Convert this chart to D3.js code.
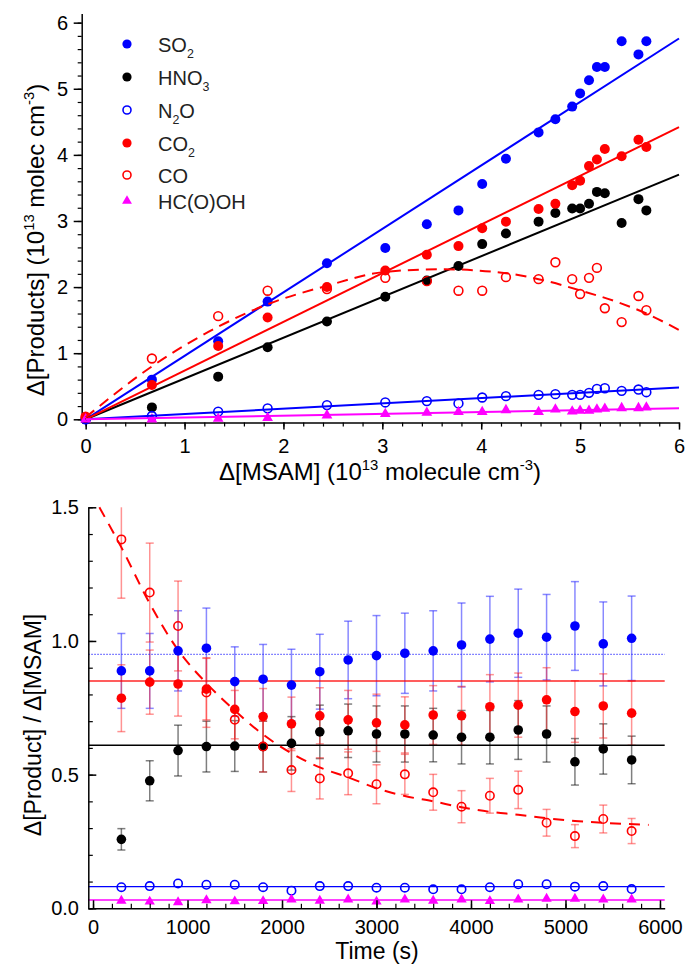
<!DOCTYPE html>
<html>
<head>
<meta charset="utf-8">
<script src="https://cdn.jsdelivr.net/npm/d3@7"></script>
<style>
body { margin: 0; background: #fff; }
svg { display: block; font-family: "Liberation Sans", Arial, sans-serif; }
</style>
</head>
<body>
<svg width="686" height="967"></svg>
<script>
// ---- top panel: products vs MSAM consumed (10^13 molec cm-3)
var msam  = [0, 0.67, 1.34, 1.84, 2.44, 3.03, 3.45, 3.77, 4.01, 4.25, 4.58, 4.75, 4.92, 5.00, 5.09, 5.17, 5.25, 5.42, 5.59, 5.67];
var so2   = [0, 0.60, 1.18, 1.78, 2.36, 2.59, 2.95, 3.16, 3.56, 3.94, 4.34, 4.54, 4.73, 4.93, 5.13, 5.33, 5.33, 5.72, 5.52, 5.72];
var hno3  = [0, 0.18, 0.645, 1.09, 1.48, 1.855, 2.10, 2.32, 2.65, 2.81, 2.99, 3.12, 3.19, 3.19, 3.26, 3.44, 3.42, 2.97, 3.33, 3.16];
var n2o   = [0, 0.05, 0.115, 0.165, 0.215, 0.255, 0.275, 0.24, 0.33, 0.35, 0.37, 0.38, 0.37, 0.37, 0.40, 0.46, 0.47, 0.43, 0.45, 0.41];
var co2   = [0.03, 0.52, 1.11, 1.54, 2.00, 2.25, 2.49, 2.62, 2.89, 2.99, 3.18, 3.26, 3.54, 3.61, 3.83, 3.93, 4.09, 3.98, 4.23, 4.12];
var co    = [0.04, 0.92, 1.56, 1.945, 1.97, 2.14, 2.09, 1.945, 1.945, 2.15, 2.12, 2.375, 2.12, 1.895, 2.14, 2.29, 1.68, 1.47, 1.865, 1.65];
var hcooh = [0, 0.0, 0.01, 0.02, 0.06, 0.08, 0.10, 0.11, 0.11, 0.14, 0.11, 0.15, 0.12, 0.13, 0.13, 0.15, 0.16, 0.17, 0.17, 0.18];

// straight fits, value at x = 0 and x = 6
var fitX      = [0, 6];
var so2Fit    = [0, 5.76];
var hno3Fit   = [0, 3.70];
var n2oFit    = [0, 0.48];
var co2Fit    = [0, 4.42];
var hcoohFit  = [0, 0.166];
// CO curve
var coFitX = [0, 0.67, 1.34, 1.84, 2.44, 3.03, 3.6, 4.25, 4.58, 5.0, 5.42, 5.67, 6];
var coFitY = [0.03, 0.80, 1.40, 1.74, 2.02, 2.23, 2.27, 2.21, 2.12, 1.95, 1.75, 1.60, 1.35];

var legendNames = ["SO_{2}", "HNO_{3}", "N_{2}O", "CO_{2}", "CO", "HC(O)OH"];

// ---- bottom panel: yield ratio vs time
var timeS     = [300, 600, 900, 1200, 1500, 1800, 2100, 2400, 2700, 3000, 3300, 3600, 3900, 4200, 4500, 4800, 5100, 5400, 5700];
var so2Ratio  = [0.888, 0.888, 0.963, 0.973, 0.848, 0.857, 0.835, 0.885, 0.929, 0.945, 0.954, 0.963, 0.985, 1.007, 1.029, 1.014, 1.056, 0.989, 1.010];
var so2Err    = [0.14, 0.14, 0.15, 0.15, 0.13, 0.13, 0.134, 0.14, 0.145, 0.15, 0.15, 0.15, 0.157, 0.16, 0.165, 0.16, 0.166, 0.157, 0.158];
var hno3Ratio = [0.258, 0.477, 0.59, 0.605, 0.607, 0.605, 0.617, 0.66, 0.664, 0.652, 0.652, 0.648, 0.64, 0.64, 0.667, 0.652, 0.548, 0.596, 0.555];
var hno3Err   = [0.04, 0.075, 0.095, 0.095, 0.095, 0.095, 0.1, 0.1, 0.1, 0.105, 0.105, 0.1, 0.1, 0.1, 0.11, 0.105, 0.087, 0.094, 0.089];
var n2oRatio  = [0.079, 0.083, 0.093, 0.088, 0.088, 0.079, 0.066, 0.083, 0.083, 0.077, 0.077, 0.071, 0.071, 0.079, 0.09, 0.09, 0.081, 0.083, 0.072];
var co2Ratio  = [0.786, 0.846, 0.839, 0.82, 0.744, 0.717, 0.69, 0.72, 0.705, 0.694, 0.686, 0.723, 0.72, 0.754, 0.76, 0.78, 0.736, 0.757, 0.73];
var co2Err    = [0.125, 0.12, 0.12, 0.115, 0.11, 0.105, 0.1, 0.105, 0.11, 0.107, 0.105, 0.11, 0.11, 0.12, 0.12, 0.12, 0.115, 0.12, 0.12];
var coRatio   = [1.38, 1.181, 1.056, 0.807, 0.705, 0.605, 0.517, 0.486, 0.505, 0.464, 0.501, 0.434, 0.38, 0.421, 0.443, 0.32, 0.27, 0.334, 0.289];
var coErr     = [0.22, 0.185, 0.168, 0.13, 0.11, 0.095, 0.08, 0.077, 0.08, 0.073, 0.075, 0.067, 0.06, 0.065, 0.07, 0.05, 0.043, 0.052, 0.047];
var hcoohRatio = [0.028, 0.025, 0.023, 0.03, 0.026, 0.027, 0.033, 0.028, 0.033, 0.025, 0.033, 0.028, 0.033, 0.027, 0.033, 0.036, 0.036, 0.033, 0.033];

// mean yields (horizontal lines)
var so2Mean = 0.95, hno3Mean = 0.61, n2oMean = 0.081, co2Mean = 0.85, hcoohMean = 0.031;
// CO decay curve
var coDecayT = [67, 300, 600, 900, 1200, 1500, 1800, 2100, 2400, 2700, 3000, 3300, 3600, 3900, 4200, 4500, 4800, 5100, 5400, 5880];
var coDecayY = [1.5, 1.35, 1.14, 0.966, 0.842, 0.74, 0.65, 0.58, 0.527, 0.49, 0.449, 0.42, 0.40, 0.378, 0.361, 0.35, 0.337, 0.327, 0.32, 0.312];

var BLUE = "#0000ff", RED = "#ff0000", BLACK = "#000000", MAGENTA = "#ff00ff";
var tickFont = 20, titleFont = 24, botTitleFont = 23;

var svg = d3.select("svg");

// text with ^{sup} and _{sub}
function rich(text, str, size) {
	var parts = str.split(/(\^\{[^}]*\}|_\{[^}]*\})/);
	var shift = 0;
	parts.forEach(function (p) {
		if (!p) return;
		var t = text.append("tspan");
		if (p[0] === "^" || p[0] === "_") {
			var d = p[0] === "^" ? -size * 0.42 : size * 0.32;
			t.attr("dy", d - shift).style("font-size", (size * 0.62) + "px").text(p.slice(2, -1));
			shift = d;
		} else {
			t.attr("dy", -shift).text(p);
			shift = 0;
		}
	});
}

function styleAxis(g) {
	g.attr("font-family", null).attr("font-size", null);
	g.selectAll(".domain").attr("stroke", "#000").attr("stroke-width", 1.5);
	g.selectAll(".tick line").attr("stroke", "#000").attr("stroke-width", 1.5);
	g.selectAll(".tick text").style("font-size", tickFont + "px").attr("fill", "#000");
}

function minor(g) {
	g.select(".domain").remove();
	g.selectAll(".tick line").attr("stroke", "#000").attr("stroke-width", 1.2);
}

function mark(g, shape, color, cx, cy, r) {
	if (shape === "tri") {
		g.append("path")
			.attr("d", d3.symbol(d3.symbolTriangle, r * r * 2))
			.attr("transform", "translate(" + cx + "," + cy + ")")
			.attr("fill", color);
	} else if (shape === "open") {
		g.append("circle").attr("cx", cx).attr("cy", cy).attr("r", r - 0.6)
			.attr("fill", "none").attr("stroke", color).attr("stroke-width", 1.6);
	} else {
		g.append("circle").attr("cx", cx).attr("cy", cy).attr("r", r).attr("fill", color);
	}
}

// ================= TOP PANEL =================
var xTop = d3.scaleLinear().domain([-0.04, 6]).range([81.7, 679]);
var yTop = d3.scaleLinear().domain([-0.05, 6.14]).range([422.6, 13.4]);

var topG = svg.append("g");

topG.append("g").attr("transform", "translate(0," + yTop(-0.05) + ")")
	.call(d3.axisBottom(xTop).tickValues(d3.range(0, 6.01, 0.2)).tickSize(4).tickFormat(""))
	.call(minor);
topG.append("g").attr("transform", "translate(0," + yTop(-0.05) + ")")
	.call(d3.axisBottom(xTop).tickValues([0, 1, 2, 3, 4, 5, 6]).tickSize(7).tickSizeOuter(0).tickPadding(9).tickFormat(d3.format("d")))
	.call(styleAxis);

topG.append("g").attr("transform", "translate(" + xTop(-0.04) + ",0)")
	.call(d3.axisLeft(yTop).tickValues(d3.range(0, 6.01, 0.2)).tickSize(4).tickFormat(""))
	.call(minor);
topG.append("g").attr("transform", "translate(" + xTop(-0.04) + ",0)")
	.call(d3.axisLeft(yTop).tickValues([0, 1, 2, 3, 4, 5, 6]).tickSize(8).tickSizeOuter(0).tickPadding(5.5).tickFormat(d3.format("d")))
	.call(styleAxis);

var topSeries = [
	{ y: so2, fit: so2Fit, color: BLUE, shape: "filled" },
	{ y: hno3, fit: hno3Fit, color: BLACK, shape: "filled" },
	{ y: n2o, fit: n2oFit, color: BLUE, shape: "open" },
	{ y: co2, fit: co2Fit, color: RED, shape: "filled" },
	{ y: co, fit: null, color: RED, shape: "open" },
	{ y: hcooh, fit: hcoohFit, color: MAGENTA, shape: "tri" }
];

var topPts = topG.append("g");
topSeries.forEach(function (s) {
	s.y.forEach(function (v, i) {
		mark(topPts, s.shape, s.color, xTop(msam[i]), yTop(v), 5);
	});
});

var line = d3.line();
topSeries.forEach(function (s) {
	if (!s.fit) return;
	topG.append("path")
		.attr("d", line(fitX.map(function (x, i) { return [xTop(x), yTop(s.fit[i])]; })))
		.attr("fill", "none").attr("stroke", s.color).attr("stroke-width", 2);
});
topG.append("path")
	.attr("d", d3.line().curve(d3.curveMonotoneX)(coFitX.map(function (x, i) { return [xTop(x), yTop(coFitY[i])]; })))
	.attr("fill", "none").attr("stroke", RED).attr("stroke-width", 2).attr("stroke-dasharray", "11,7");

// legend
var legendRowY = [44, 77, 110, 143, 175, 201];
var legend = topG.append("g");
topSeries.forEach(function (s, i) {
	mark(legend, s.shape, s.color, 127, legendRowY[i], 4.6);
	var t = legend.append("text").attr("x", 158).attr("y", legendRowY[i] + 7.5)
		.style("font-size", "20px").attr("fill", "#222");
	rich(t, legendNames[i], 20);
});

// titles
var tx = topG.append("text").attr("x", 380).attr("y", 480).attr("text-anchor", "middle")
	.style("font-size", titleFont + "px");
rich(tx, "\u0394[MSAM] (10^{13} molecule cm^{-3})", titleFont);
var ty = topG.append("text").attr("transform", "translate(44,240) rotate(-90)").attr("text-anchor", "middle")
	.style("font-size", titleFont + "px");
rich(ty, "\u0394[Products] (10^{13} molec cm^{-3})", titleFont);

// ================= BOTTOM PANEL =================
var xBot = d3.scaleLinear().domain([-50, 6050]).range([88.3, 664.7]);
var yBot = d3.scaleLinear().domain([0, 1.5]).range([908.3, 507.3]);

var botG = svg.append("g");

var botSeries = [
	{ y: so2Ratio, err: so2Err, mean: so2Mean, color: BLUE, shape: "filled", errColor: "rgba(40,40,255,0.55)", meanDash: "1.5,1.5", meanColor: "rgba(40,40,255,0.75)" },
	{ y: hno3Ratio, err: hno3Err, mean: hno3Mean, color: BLACK, shape: "filled", errColor: "rgba(0,0,0,0.5)", meanDash: null, meanColor: "#000" },
	{ y: n2oRatio, err: null, mean: n2oMean, color: BLUE, shape: "open", meanDash: null, meanColor: BLUE },
	{ y: co2Ratio, err: co2Err, mean: co2Mean, color: RED, shape: "filled", errColor: "rgba(255,40,40,0.5)", meanDash: null, meanColor: "rgba(255,0,0,0.85)" },
	{ y: coRatio, err: coErr, mean: null, color: RED, shape: "open", errColor: "rgba(255,40,40,0.5)" },
	{ y: hcoohRatio, err: null, mean: hcoohMean, color: MAGENTA, shape: "tri", meanDash: null, meanColor: MAGENTA }
];

// error bars
var errG = botG.append("g");
botSeries.forEach(function (s) {
	if (!s.err) return;
	s.y.forEach(function (v, i) {
		var cx = xBot(timeS[i]);
		var hi = v + s.err[i], lo = v - s.err[i];
		var hiC = Math.min(hi, 1.5), loC = Math.max(lo, 0);
		errG.append("line").attr("x1", cx).attr("x2", cx).attr("y1", yBot(hiC)).attr("y2", yBot(loC))
			.attr("stroke", s.errColor).attr("stroke-width", 1.5);
		[[hi, hiC], [lo, loC]].forEach(function (e) {
			if (e[0] !== e[1]) return;
			errG.append("line").attr("x1", cx - 4).attr("x2", cx + 4).attr("y1", yBot(e[1])).attr("y2", yBot(e[1]))
				.attr("stroke", s.errColor).attr("stroke-width", 1.5);
		});
	});
});

// mean lines
botSeries.forEach(function (s) {
	if (s.mean == null) return;
	botG.append("line").attr("x1", xBot(-50)).attr("x2", xBot(6050))
		.attr("y1", yBot(s.mean)).attr("y2", yBot(s.mean))
		.attr("stroke", s.meanColor).attr("stroke-width", 1.4)
		.attr("stroke-dasharray", s.meanDash);
});

botG.append("path")
	.attr("d", d3.line().curve(d3.curveMonotoneX)(coDecayT.map(function (t, i) { return [xBot(t), yBot(coDecayY[i])]; })))
	.attr("fill", "none").attr("stroke", RED).attr("stroke-width", 2).attr("stroke-dasharray", "11,8");

var botPts = botG.append("g");
botSeries.forEach(function (s) {
	s.y.forEach(function (v, i) {
		mark(botPts, s.shape, s.color, xBot(timeS[i]), yBot(v), 4.8);
	});
});

// axes (ticks inward)
botG.append("g").attr("transform", "translate(0," + yBot(0) + ")")
	.call(d3.axisBottom(xBot).tickValues(d3.range(0, 6001, 200)).tickSize(-4.5).tickFormat(""))
	.call(minor);
botG.append("g").attr("transform", "translate(0," + yBot(0) + ")")
	.call(d3.axisBottom(xBot).tickValues([0, 1000, 2000, 3000, 4000, 5000, 6000]).tickSize(-8).tickSizeOuter(0).tickPadding(12).tickFormat(d3.format("d")))
	.call(styleAxis);
botG.append("g").attr("transform", "translate(" + xBot(-50) + ",0)")
	.call(d3.axisLeft(yBot).tickValues(d3.range(0, 1.501, 0.1)).tickSize(-4.5).tickFormat(""))
	.call(minor);
botG.append("g").attr("transform", "translate(" + xBot(-50) + ",0)")
	.call(d3.axisLeft(yBot).tickValues([0, 0.5, 1.0, 1.5]).tickSize(-8).tickSizeOuter(0).tickPadding(9.3).tickFormat(d3.format(".1f")))
	.call(styleAxis);

botG.append("text").attr("x", 377).attr("y", 959).attr("text-anchor", "middle")
	.style("font-size", botTitleFont + "px").text("Time (s)");
var by = botG.append("text").attr("transform", "translate(41,725) rotate(-90)").attr("text-anchor", "middle")
	.style("font-size", botTitleFont + "px");
rich(by, "\u0394[Product] / \u0394[MSAM]", botTitleFont);
</script>
</body>
</html>
